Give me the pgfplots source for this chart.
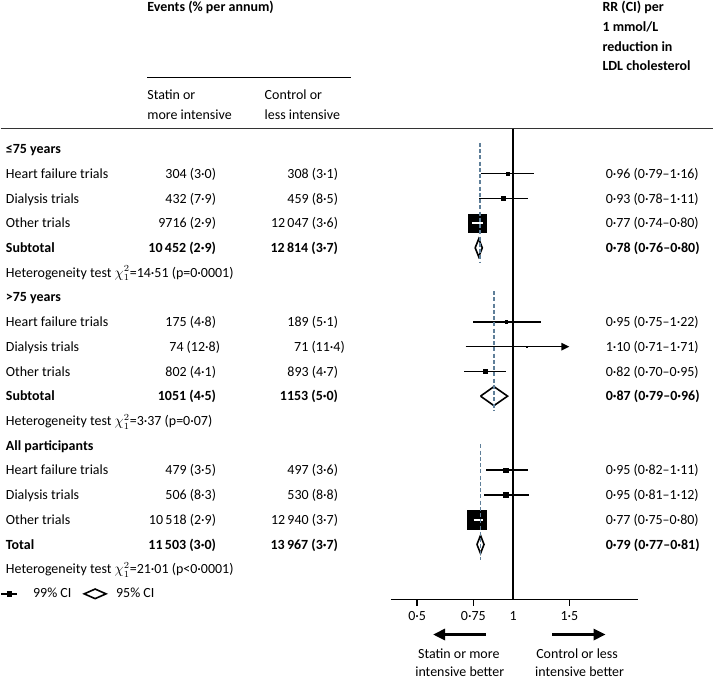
\documentclass[border=0pt]{standalone}
\usepackage{fontspec}
\setmainfont{Carlito}
\usepackage{pgfplots}
\pgfplotsset{compat=1.18}
\usepackage{pgfplotstable}
\usetikzlibrary{arrows.meta}

\definecolor{refdash}{HTML}{5F7F99}
\definecolor{rulegray}{HTML}{333333}

% rows are plotted at y = -row
\pgfplotstableread{
row est  lo   hi   ms
-1  0.96 0.79 1.16 1.25
-2  0.93 0.78 1.11 1.35
-3  0.77 0.74 0.80 6.9
-7  0.95 0.75 1.22 1.0
-9  0.82 0.70 0.95 1.5
-13 0.95 0.82 1.11 1.8
-14 0.95 0.81 1.12 1.8
-15 0.77 0.75 0.80 7.1
}\trials

\begin{document}
\begin{tikzpicture}[font=\fontsize{10.5}{12.6}\selectfont]
\begin{scope}[x=0.75pt,y=-0.75pt]
\useasboundingbox (0,0) rectangle (714,679);
\end{scope}

\begin{axis}[
    set layers,
    at={(293.25pt,-450.5pt)}, anchor=south west,
    scale only axis, width=186pt, height=353.8pt,
    xmode=log, xmin=0.414, xmax=2.467,
    ymin=-18.23, ymax=0.82,
    axis x line*=bottom, axis y line=none,
    axis line style={black, line width=1.2pt},
    xtick={0.5,0.75,1.5}, xticklabels={0·5,0·75,1·5},
    extra x ticks={1}, extra x tick labels={1},
    extra x tick style={tick style={draw=none}},
    xtick align=outside, major tick length=4.5pt,
    tick style={black, line width=1.1pt},
    minor tick num=0, ytick=\empty,
    xticklabel style={anchor=center, yshift=-8pt, font=\fontsize{10.5}{12.6}\selectfont},
    clip=false,
    legend style={at={(-1.5766,0.0121)}, anchor=west, draw=none, fill=none,
        inner sep=0pt, font=\fontsize{10.5}{12.6}\selectfont,
        /tikz/every even column/.append style={column sep=7pt}},
    legend columns=2, legend cell align=left,
]
\addlegendimage{legend image code/.code={
    \fill[black] (0pt,-0.6pt) rectangle (11pt,0.6pt);
    \fill[black] (4.2pt,-1.7pt) rectangle (7.6pt,1.7pt);
    \path[draw=none, fill=none] (0pt,0pt) -- (22pt,0pt);}}
\addlegendentry{99\% CI}
\addlegendimage{legend image code/.code={
    \draw[black, line width=1.2pt, line join=miter] (0pt,0pt) -- (8.2pt,3.6pt) -- (16.4pt,0pt) -- (8.2pt,-3.6pt) -- cycle;
    \path[draw=none, fill=none] (0pt,0pt) -- (22pt,0pt);}}
\addlegendentry{95\% CI}

% confidence intervals (99%) with squares
\addplot[draw=none, mark=none,
    error bars/.cd, x dir=both, x explicit, error mark=none,
    error bar style={draw=black, line width=1.2pt}]
    table[x=est, y=row, x error plus expr=\thisrow{hi}-\thisrow{est},
          x error minus expr=\thisrow{est}-\thisrow{lo}] {\trials};
\addplot[black, line width=1.2pt, -{Triangle[length=6pt,width=5.5pt]}]
    coordinates {(0.71,-8) (1.50,-8)};
\addplot[scatter, only marks, mark=square*,
    scatter/use mapped color={draw=none, fill=black},
    visualization depends on={\thisrow{ms} \as \msz},
    scatter/@pre marker code/.append style={/tikz/mark size=\msz pt}]
    table[x=est, y=row] {\trials};
\addplot[only marks, mark=square*, mark size=0.45pt, black] coordinates {(1.10,-8)};

% pooled estimates (95%) as diamonds
\addplot[black, line width=1.2pt, line join=miter] coordinates
    {(0.76,-4) (0.78,-3.635) (0.80,-4) (0.78,-4.365) (0.76,-4)};
\addplot[black, line width=1.2pt, line join=miter] coordinates
    {(0.79,-10) (0.87,-9.615) (0.96,-10) (0.87,-10.385) (0.79,-10)};
\addplot[black, line width=1.2pt, line join=miter] coordinates
    {(0.77,-16) (0.79,-15.635) (0.81,-16) (0.79,-16.365) (0.77,-16)};

% white CI inside large squares
\addplot[on layer=axis foreground, white, line width=1.2pt] coordinates {(0.745,-3) (0.803,-3)};
\addplot[on layer=axis foreground, white, line width=1.2pt] coordinates {(0.752,-15) (0.803,-15)};

% dashed lines at the pooled estimate
\addplot[on layer=axis foreground, refdash, line width=1.3pt, dash pattern=on 3pt off 1.7pt] coordinates {(0.785,0.25) (0.785,-4.62)};
\addplot[on layer=axis foreground, refdash, line width=1.3pt, dash pattern=on 3pt off 1.7pt] coordinates {(0.87,-5.75) (0.87,-10.6)};
\addplot[on layer=axis foreground, refdash, line width=1.3pt, dash pattern=on 3pt off 1.7pt] coordinates {(0.79,-11.95) (0.79,-16.65)};

% line of no effect
\addplot[on layer=axis foreground, black, line width=1.8pt] coordinates {(1,0.82) (1,-18.23)};
\end{axis}

\begin{scope}[x=0.75pt,y=-0.75pt]
\draw[black, line width=1.1pt] (146.7,77.7) -- (351,77.7);
\draw[rulegray, line width=1pt] (0,129) -- (714,129);
\draw[black, line width=1.7pt, -{Triangle[length=9pt,width=8.5pt]}] (486,635.7) -- (433.3,635.7);
\draw[black, line width=1.7pt, -{Triangle[length=9pt,width=8.5pt]}] (552.7,635.7) -- (606,635.7);
\end{scope}

\begin{scope}[x=0.75pt,y=-0.75pt, yshift=-1.1pt, every node/.append style={inner sep=0pt}]
% header
\node[anchor=mid west, font=\fontsize{10.5}{12.6}\selectfont\bfseries] at (146.7,7.3) {Events (\% per annum)};
\node[anchor=mid west] at (146.7,95) {Statin or};
\node[anchor=mid west] at (146.7,114.7) {more intensive};
\node[anchor=mid west] at (264.3,95) {Control or};
\node[anchor=mid west] at (264.3,114.7) {less intensive};
\begin{scope}[every node/.style={anchor=mid west, inner sep=0pt, font=\fontsize{10.5}{12.6}\selectfont\bfseries}]
\node at (602.7,6.7) {RR (CI) per};
\node at (602.7,26.7) {1 mmol/L};
\node at (602.7,46.7) {reduction in};
\node at (602.7,66.3) {LDL cholesterol};
\end{scope}

% table rows
\begin{scope}[every node/.style={anchor=mid west, inner sep=0pt}]
\node at (5,149.3) {\bfseries ≤75 years};
\node at (5,174.1) {Heart failure trials};
\node at (5,198.8) {Dialysis trials};
\node at (5,223.6) {Other trials};
\node at (5,248.3) {\bfseries Subtotal};
\node at (5,273.1) {Heterogeneity test $\chi^2_1$=14·51 (p=0·0001)};
\node at (5,297.9) {\bfseries >75 years};
\node at (5,322.6) {Heart failure trials};
\node at (5,347.4) {Dialysis trials};
\node at (5,372.1) {Other trials};
\node at (5,396.9) {\bfseries Subtotal};
\node at (5,421.7) {Heterogeneity test $\chi^2_1$=3·37 (p=0·07)};
\node at (5,446.4) {\bfseries All participants};
\node at (5,471.2) {Heart failure trials};
\node at (5,496.0) {Dialysis trials};
\node at (5,520.7) {Other trials};
\node at (5,545.5) {\bfseries Total};
\node at (5,570.2) {Heterogeneity test $\chi^2_1$=21·01 (p<0·0001)};

\node at (606,174.1) {0·96 (0·79–1·16)};
\node at (606,198.8) {0·93 (0·78–1·11)};
\node at (606,223.6) {0·77 (0·74–0·80)};
\node at (606,248.3) {\bfseries 0·78 (0·76–0·80)};
\node at (606,322.6) {0·95 (0·75–1·22)};
\node at (606,347.4) {1·10 (0·71–1·71)};
\node at (606,372.1) {0·82 (0·70–0·95)};
\node at (606,396.9) {\bfseries 0·87 (0·79–0·96)};
\node at (606,471.2) {0·95 (0·82–1·11)};
\node at (606,496.0) {0·95 (0·81–1·12)};
\node at (606,520.7) {0·77 (0·75–0·80)};
\node at (606,545.5) {\bfseries 0·79 (0·77–0·81)};
\end{scope}

\begin{scope}[every node/.style={anchor=mid east, inner sep=0pt}]
\node at (216,174.1) {304 (3·0)};
\node at (216,198.8) {432 (7·9)};
\node at (216,223.6) {9716 (2·9)};
\node at (216,248.3) {\bfseries 10\,452 (2·9)};
\node at (216,322.6) {175 (4·8)};
\node at (220,347.4) {74 (12·8)};
\node at (216,372.1) {802 (4·1)};
\node at (216,396.9) {\bfseries 1051 (4·5)};
\node at (216,471.2) {479 (3·5)};
\node at (216,496.0) {506 (8·3)};
\node at (216,520.7) {10\,518 (2·9)};
\node at (216,545.5) {\bfseries 11\,503 (3·0)};

\node at (338.3,174.1) {308 (3·1)};
\node at (338.3,198.8) {459 (8·5)};
\node at (338.3,223.6) {12\,047 (3·6)};
\node at (338.3,248.3) {\bfseries 12\,814 (3·7)};
\node at (338.3,322.6) {189 (5·1)};
\node at (345,347.4) {71 (11·4)};
\node at (338.3,372.1) {893 (4·7)};
\node at (338.3,396.9) {\bfseries 1153 (5·0)};
\node at (338.3,471.2) {497 (3·6)};
\node at (338.3,496.0) {530 (8·8)};
\node at (338.3,520.7) {12\,940 (3·7)};
\node at (338.3,545.5) {\bfseries 13\,967 (3·7)};
\end{scope}
\end{scope}

% captions under the arrows
\begin{scope}[x=0.75pt,y=-0.75pt]
\node[anchor=center] at (459,655) {Statin or more};
\node[anchor=center] at (460,672.5) {intensive better};
\node[anchor=center] at (577.5,655) {Control or less};
\node[anchor=center] at (580,672.5) {intensive better};
\end{scope}
\end{tikzpicture}
\end{document}
